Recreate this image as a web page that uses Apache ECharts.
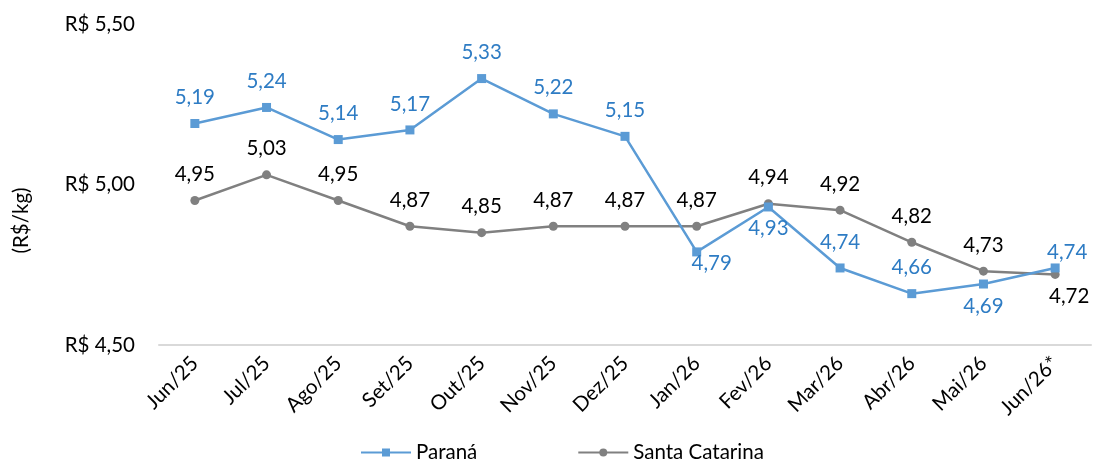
<!DOCTYPE html>
<html>
<head>
<meta charset="utf-8">
<script src="https://cdn.jsdelivr.net/npm/echarts@6/dist/echarts.min.js"></script>
<style>html,body{margin:0;padding:0;background:#fff}#c{width:1097px;height:464px}</style>
</head>
<body>
<div id="c"></div>
<script>
const categories = ['Jun/25','Jul/25','Ago/25','Set/25','Out/25','Nov/25','Dez/25','Jan/26','Fev/26','Mar/26','Abr/26','Mai/26','Jun/26*'];
const parana = [5.19,5.24,5.14,5.17,5.33,5.22,5.15,4.79,4.93,4.74,4.66,4.69,4.74];
const santaCatarina = [4.95,5.03,4.95,4.87,4.85,4.87,4.87,4.87,4.94,4.92,4.82,4.73,4.72];
const seriesNames = ['Paraná','Santa Catarina'];
const yTicks = {min: 4.5, max: 5.5, interval: 0.5};

const FONT = 'Lato';
const FS = 20.5;
const fmt = v => v.toFixed(2).replace('.', ',');

// label placement overrides (style only)
const paranaLabel = {
  7: {position: 'bottom', distance: 0, offset: [15, -4]},
  8: {position: 'bottom', distance: 6},
  11: {position: 'bottom', distance: 7},
  12: {position: 'top', distance: 1, offset: [12, 0]}
};
const scLabel = {
  12: {position: 'bottom', distance: 7, offset: [14, 0]}
};
function build(values, overrides) {
  return values.map((v, i) => overrides[i] ? {value: v, label: overrides[i]} : v);
}

const chart = echarts.init(document.getElementById('c'));
chart.setOption({
  animation: false,
  backgroundColor: '#fff',
  textStyle: {fontFamily: FONT},
  grid: {left: 159, right: 6, top: 24, bottom: 119, containLabel: false},
  legend: {
    top: 437, left: 355,
    itemWidth: 50, itemHeight: 10, itemGap: 100,
    textStyle: {fontFamily: FONT, fontSize: FS, color: '#000'},
    data: seriesNames
  },
  xAxis: {
    type: 'category',
    data: categories,
    boundaryGap: true,
    axisLine: {lineStyle: {color: '#D9D9D9', width: 2}},
    axisTick: {show: false},
    axisLabel: {rotate: 45, margin: 15, fontFamily: FONT, fontSize: FS, color: '#000', interval: 0}
  },
  yAxis: {
    type: 'value',
    min: yTicks.min, max: yTicks.max, interval: yTicks.interval,
    name: '(R$/kg)',
    nameLocation: 'middle',
    nameGap: 127,
    nameRotate: 90,
    nameTextStyle: {fontFamily: FONT, fontSize: FS, color: '#000', padding: [0, 72, 0, 0]},
    splitLine: {show: false},
    axisLine: {show: false},
    axisTick: {show: false},
    axisLabel: {margin: 24, fontFamily: FONT, fontSize: FS, color: '#000', formatter: v => 'R$ ' + fmt(v)}
  },
  series: [
    {
      name: seriesNames[0], type: 'line',
      data: build(parana, paranaLabel),
      symbol: 'rect', symbolSize: 9,
      lineStyle: {color: '#5B9BD5', width: 2.5},
      itemStyle: {color: '#5B9BD5'},
      label: {show: true, position: 'top', distance: 11, fontFamily: FONT, fontSize: FS, color: '#2E7CC4', formatter: p => fmt(p.value)},
      z: 3
    },
    {
      name: seriesNames[1], type: 'line',
      data: build(santaCatarina, scLabel),
      symbol: 'circle', symbolSize: 9,
      lineStyle: {color: '#808080', width: 2.5},
      itemStyle: {color: '#808080'},
      label: {show: true, position: 'top', distance: 11, fontFamily: FONT, fontSize: FS, color: '#000', formatter: p => fmt(p.value)},
      z: 2
    }
  ]
});
</script>
</body>
</html>
